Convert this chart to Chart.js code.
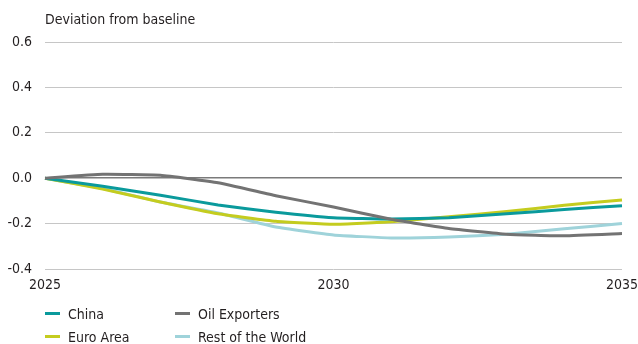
<!DOCTYPE html>
<html>
<head>
<meta charset="utf-8">
<script src="https://cdn.jsdelivr.net/npm/chart.js@4"></script>
<style>
  html, body { margin: 0; padding: 0; background: #fff; }
  #wrap { position: relative; width: 638px; height: 344px; font-family: "DejaVu Sans Condensed", sans-serif; color: #231f20; }
  #chart { position: absolute; left: 0; top: 0; }
  #title { position: absolute; left: 45px; top: 11px; font-size: 14px; }
  #legend { position: absolute; left: 45px; top: 304px; display: grid; grid-template-columns: 130px 200px; row-gap: 4px; font-size: 14px; }
  #legend div { display: flex; align-items: center; height: 19px; }
  #legend span.mk { display: inline-block; width: 15px; height: 3px; margin-right: 8px; }
</style>
</head>
<body>
<div id="wrap">
  <canvas id="chart" width="638" height="344"></canvas>
  <div id="title">Deviation from baseline</div>
  <div id="legend"></div>
</div>
<script>
// Años y desviaciones respecto a la línea base
const years = ['2025','2026','2027','2028','2029','2030','2031','2032','2033','2034','2035'];
const china        = [0, -0.035, -0.075, -0.118, -0.150, -0.174, -0.180, -0.174, -0.157, -0.138, -0.121];
const euroArea     = [0, -0.048, -0.105, -0.157, -0.190, -0.203, -0.192, -0.170, -0.147, -0.119, -0.096];
const oilExporters = [0,  0.017,  0.013, -0.020, -0.077, -0.127, -0.181, -0.222, -0.247, -0.254, -0.244];
const restOfWorld  = [0, -0.045, -0.105, -0.153, -0.215, -0.250, -0.263, -0.259, -0.247, -0.223, -0.200];
const yTicks = [-0.4, -0.2, 0.0, 0.2, 0.4, 0.6];

const series = [
    { label: 'China', data: china, color: '#0a9a9c' },
    { label: 'Oil Exporters', data: oilExporters, color: '#737373' },
    { label: 'Euro Area', data: euroArea, color: '#c4cc1f' },
    { label: 'Rest of the World', data: restOfWorld, color: '#9fd3da' }
];

// Leyenda en dos columnas
const legend = document.getElementById('legend');
series.forEach(s => {
    const item = document.createElement('div');
    item.innerHTML = '<span class="mk" style="background:' + s.color + '"></span>' + s.label;
    legend.appendChild(item);
});

// Orden de dibujo: las líneas claras debajo
const drawOrder = ['Rest of the World', 'Euro Area', 'China', 'Oil Exporters'];

const tickFont = { family: '"DejaVu Sans Condensed", sans-serif', size: 14 };

new Chart(document.getElementById('chart'), {
    type: 'line',
    data: {
        labels: years,
        datasets: series.map(s => ({
            label: s.label,
            data: s.data,
            borderColor: s.color,
            borderWidth: 3,
            pointRadius: 0,
            tension: 0.12,
            fill: false,
            order: drawOrder.indexOf(s.label) * -1
        }))
    },
    options: {
        responsive: false,
        animation: false,
        layout: { padding: { top: 42, right: 0, left: 0, bottom: 0 } },
        plugins: { legend: { display: false }, tooltip: { enabled: false } },
        scales: {
            x: {
                offset: false,
                grid: { display: false, drawTicks: false },
                border: { display: false },
                afterFit: axis => {
                    axis.height = 75;
                    axis.paddingLeft = 0;
                    axis.paddingRight = 16;
                },
                ticks: {
                    autoSkip: false,
                    maxRotation: 0,
                    padding: 8,
                    color: '#231f20',
                    font: tickFont,
                    callback: function(value, index) {
                        const y = years[index];
                        return Number(y) % 5 === 0 ? y : '';
                    }
                }
            },
            y: {
                min: yTicks[0],
                max: yTicks[yTicks.length - 1],
                afterFit: axis => { axis.width = 45; },
                afterBuildTicks: axis => { axis.ticks = yTicks.map(v => ({ value: v })); },
                border: { display: false },
                grid: {
                    drawTicks: false,
                    color: ctx => ctx.tick && ctx.tick.value === 0 ? '#7a7a7a' : '#c6c6c6',
                    lineWidth: ctx => ctx.tick && ctx.tick.value === 0 ? 1.5 : 1
                },
                ticks: {
                    padding: 13,
                    color: '#231f20',
                    font: tickFont,
                    callback: v => Number(v).toFixed(1)
                }
            }
        }
    }
});
</script>
</body>
</html>
